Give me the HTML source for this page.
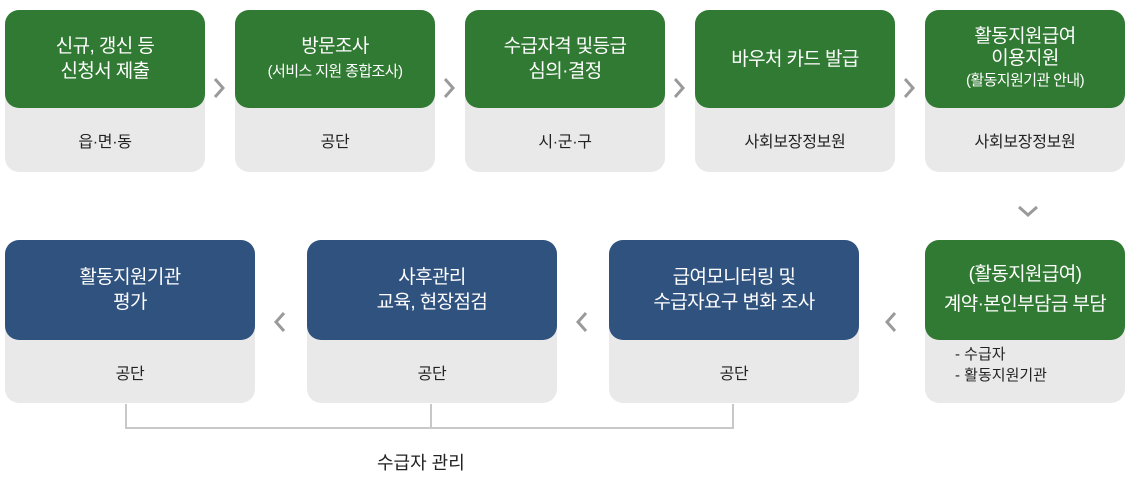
<!DOCTYPE html>
<html><head><meta charset="utf-8"><style>
body{margin:0;width:1133px;height:481px;background:#fff;font-family:"Liberation Sans","Noto Sans CJK KR",sans-serif;position:relative;overflow:hidden}
.b{position:absolute;background:#e9e9e9;border-radius:14px}
.h{position:absolute;left:0;top:0;right:0;border-radius:14px;color:#fff;display:flex;flex-direction:column;align-items:center;justify-content:center;text-align:center;font-size:19px;line-height:25px;letter-spacing:-0.6px}
.g{background:#317a33}.u{background:#30527f}
.f{position:absolute;left:0;right:0;bottom:0;display:flex;align-items:center;justify-content:center;font-size:16px;color:#222;letter-spacing:-0.3px}
.s{font-size:15px}
.l{position:absolute;background:#c8c8c8}
svg.c{position:absolute}
</style></head><body>
<div class="b" style="left:5px;top:10px;width:200px;height:162px"><div class="h g" style="height:98px">신규, 갱신 등<br>신청서 제출</div><div class="f" style="height:64px">읍·면·동</div></div>
<div class="b" style="left:235px;top:10px;width:200px;height:162px"><div class="h g" style="height:98px">방문조사<span class="s">(서비스 지원 종합조사)</span></div><div class="f" style="height:64px">공단</div></div>
<div class="b" style="left:465px;top:10px;width:200px;height:162px"><div class="h g" style="height:98px">수급자격 및등급<br>심의·결정</div><div class="f" style="height:64px">시·군·구</div></div>
<div class="b" style="left:695px;top:10px;width:200px;height:162px"><div class="h g" style="height:98px">바우처 카드 발급</div><div class="f" style="height:64px">사회보장정보원</div></div>
<div class="b" style="left:925px;top:10px;width:200px;height:162px"><div class="h g" style="height:98px;line-height:22px">활동지원급여<br>이용지원<span class="s">(활동지원기관 안내)</span></div><div class="f" style="height:64px">사회보장정보원</div></div>
<svg class="c" style="left:212px;top:77px" width="14" height="22"><polyline points="3,2 11,11 3,20" fill="none" stroke="#9a9a9a" stroke-width="3"/></svg>
<svg class="c" style="left:442px;top:77px" width="14" height="22"><polyline points="3,2 11,11 3,20" fill="none" stroke="#9a9a9a" stroke-width="3"/></svg>
<svg class="c" style="left:672px;top:77px" width="14" height="22"><polyline points="3,2 11,11 3,20" fill="none" stroke="#9a9a9a" stroke-width="3"/></svg>
<svg class="c" style="left:902px;top:77px" width="14" height="22"><polyline points="3,2 11,11 3,20" fill="none" stroke="#9a9a9a" stroke-width="3"/></svg>
<svg class="c" style="left:1016px;top:204px" width="24" height="14"><polyline points="3,3 12,11 21,3" fill="none" stroke="#9a9a9a" stroke-width="3"/></svg>
<div class="b" style="left:5px;top:240px;width:250px;height:163px"><div class="h u" style="height:100px">활동지원기관<br>평가</div><div class="f" style="height:63px">공단</div></div>
<div class="b" style="left:307px;top:240px;width:250px;height:163px"><div class="h u" style="height:100px">사후관리<br>교육, 현장점검</div><div class="f" style="height:63px">공단</div></div>
<div class="b" style="left:609px;top:240px;width:250px;height:163px"><div class="h u" style="height:100px">급여모니터링 및<br>수급자요구 변화 조사</div><div class="f" style="height:63px">공단</div></div>
<div class="b" style="left:925px;top:240px;width:200px;height:163px"><div class="h g" style="height:100px;line-height:30px">(활동지원급여)<br>계약·본인부담금 부담</div><div style="position:absolute;left:30px;top:104px;font-size:15px;line-height:21px;color:#222">- 수급자<br>- 활동지원기관</div></div>
<svg class="c" style="left:273px;top:311px" width="14" height="22"><polyline points="11,2 3,11 11,20" fill="none" stroke="#9a9a9a" stroke-width="3"/></svg>
<svg class="c" style="left:575px;top:311px" width="14" height="22"><polyline points="11,2 3,11 11,20" fill="none" stroke="#9a9a9a" stroke-width="3"/></svg>
<svg class="c" style="left:884px;top:311px" width="14" height="22"><polyline points="11,2 3,11 11,20" fill="none" stroke="#9a9a9a" stroke-width="3"/></svg>
<div class="l" style="left:125px;top:404px;width:2px;height:25px"></div>
<div class="l" style="left:430px;top:404px;width:2px;height:25px"></div>
<div class="l" style="left:732px;top:404px;width:2px;height:25px"></div>
<div class="l" style="left:125px;top:427px;width:609px;height:2px"></div>
<div style="position:absolute;left:377px;top:449px;font-size:18px;color:#222">수급자 관리</div>
</body></html>
